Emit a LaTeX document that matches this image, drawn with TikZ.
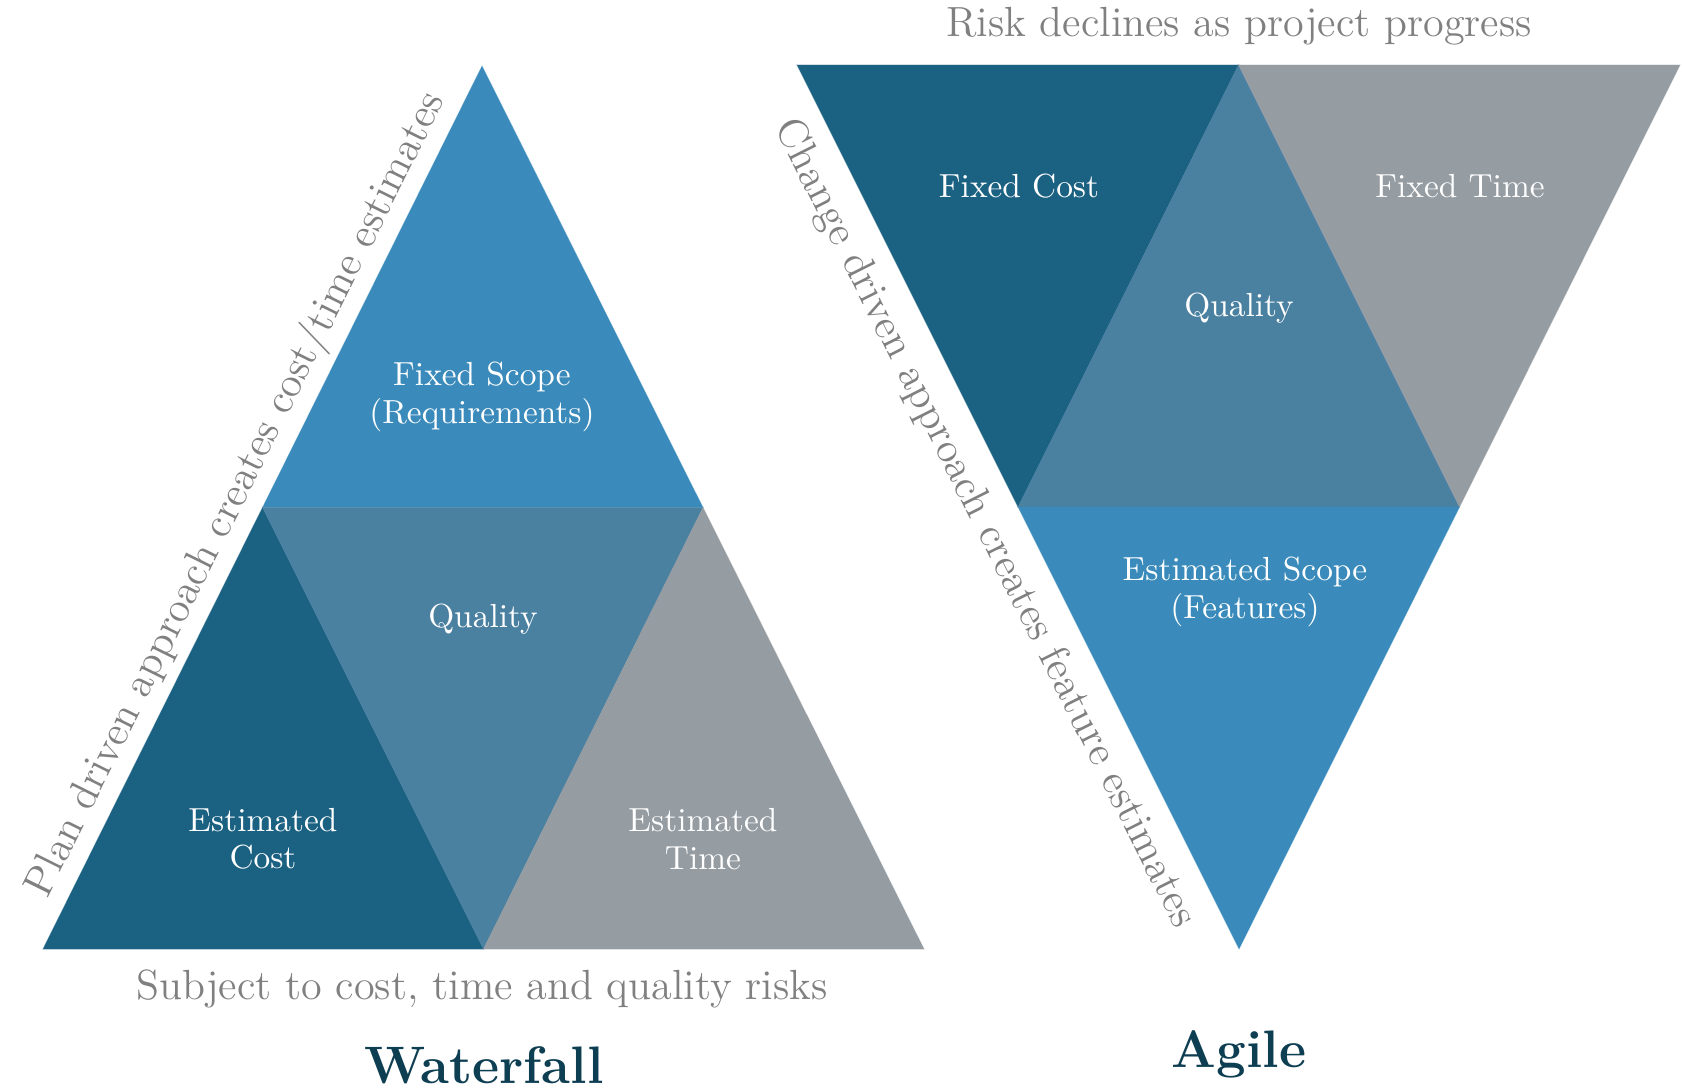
\documentclass[tikz,border=0pt]{standalone}
\usepackage{tikz}
\usetikzlibrary{calc}
\usepackage{xcolor}
\definecolor{tealdark}{HTML}{1B6182}
\definecolor{tealmid}{HTML}{4A80A0}
\definecolor{tealsky}{HTML}{3A8BBB}
\definecolor{slategrey}{HTML}{959CA2}
\definecolor{titleteal}{HTML}{0E3E52}
\definecolor{notegrey}{HTML}{808080}

\begin{document}
\begin{tikzpicture}[
  x=0.1mm, y=-0.1mm,
  part/.style={draw=white,draw opacity=0.3,line width=0.3pt},
  parttext/.style={text=white,align=center,inner sep=0pt,
                   font=\fontsize{9.5}{10.6}\selectfont},
  sidenote/.style={text=notegrey,inner sep=2pt,
                   font=\fontsize{12}{14}\selectfont},
  headline/.style={text=titleteal,inner sep=0pt,
                   font=\fontsize{15}{18}\selectfont\bfseries}
]
\useasboundingbox (0,0) rectangle (1682,1090);

% waterfall: upright triangle cut into four
\coordinate (wtop) at (482,66);
\coordinate (wleft) at (43,949);
\coordinate (wright) at (924,949);
\coordinate (wml) at ($(wtop)!0.5!(wleft)$);
\coordinate (wmr) at ($(wtop)!0.5!(wright)$);
\coordinate (wmb) at ($(wleft)!0.5!(wright)$);

\fill[part,tealsky] (wtop) -- (wml) -- (wmr) -- cycle;
\fill[part,tealdark] (wml) -- (wleft) -- (wmb) -- cycle;
\fill[part,tealmid] (wml) -- (wmr) -- (wmb) -- cycle;
\fill[part,slategrey] (wmr) -- (wmb) -- (wright) -- cycle;

\node[parttext] (wscope) at (482,397) {Fixed Scope\\(Requirements)};
\node[parttext] (wquality) at (483,619) {Quality};
\node[parttext] (wcost) at (263,839) {Estimated\\Cost};
\node[parttext] (wtime) at (703,839) {Estimated\\Time};

\path (wleft) -- node[sidenote,sloped,above] (wside)
  {Plan driven approach creates cost/time estimates} (wtop);
\node[sidenote] (wrisk) at (482,989) {Subject to cost, time and quality risks};
\node[headline] (wname) at (484,1065) {Waterfall};

% agile: the same cut, turned upside down
\coordinate (atl) at (797,65);
\coordinate (atr) at (1680,65);
\coordinate (abot) at (1239,949);
\coordinate (atm) at ($(atl)!0.5!(atr)$);
\coordinate (aml) at ($(atl)!0.5!(abot)$);
\coordinate (amr) at ($(atr)!0.5!(abot)$);

\fill[part,tealdark] (atl) -- (atm) -- (aml) -- cycle;
\fill[part,tealmid] (atm) -- (aml) -- (amr) -- cycle;
\fill[part,slategrey] (atm) -- (atr) -- (amr) -- cycle;
\fill[part,tealsky] (aml) -- (amr) -- (abot) -- cycle;

\node[parttext] (acost) at (1019,186) {Fixed Cost};
\node[parttext] (atime) at (1460,186) {Fixed Time};
\node[parttext] (aquality) at (1239,308) {Quality};
\node[parttext] (ascope) at (1245,592) {Estimated Scope\\(Features)};

\path (atl) -- node[sidenote,sloped,below,inner sep=5pt] (aside)
  {Change driven approach creates feature estimates} (abot);
\node[sidenote] (arisk) at (1239,26) {Risk declines as project progress};
\node[headline] (aname) at (1239,1054) {Agile};
\end{tikzpicture}
\end{document}
